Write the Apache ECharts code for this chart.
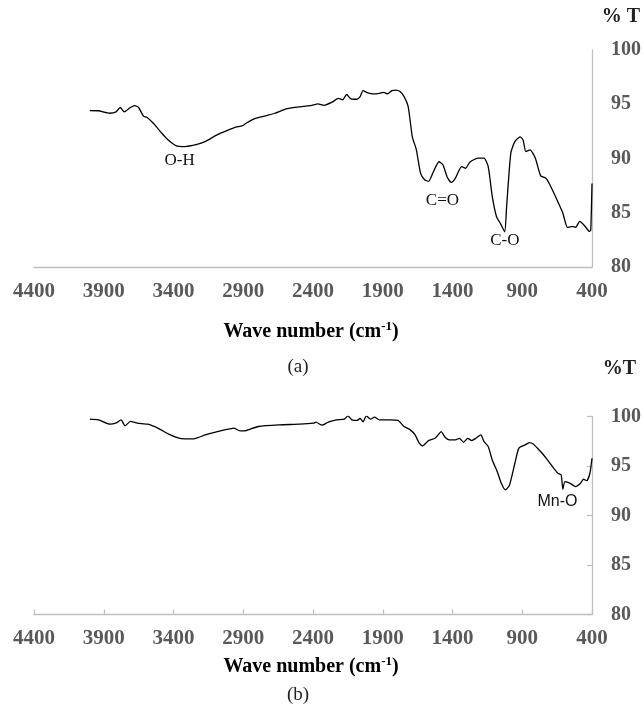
<!DOCTYPE html>
<html>
<head>
<meta charset="utf-8">
<script src="https://cdn.jsdelivr.net/npm/echarts@6/dist/echarts.min.js"></script>
<style>
  html, body { margin: 0; padding: 0; background: #fff; }
  #chart { width: 644px; height: 707px; }
</style>
</head>
<body>
<div id="chart"></div>
<script>
// ---- data: [wave number, %T] ----
const spectrumA = [
  [4000, 94.42], [3938, 94.4], [3856, 94.17], [3812, 94.3], [3782, 94.7], [3753, 94.3],
  [3709, 94.7], [3679, 94.88], [3650, 94.7], [3615, 93.9], [3591, 93.8], [3541, 93.2],
  [3482, 92.3], [3438, 91.7], [3380, 91.17], [3321, 91.1], [3232, 91.3], [3174, 91.56],
  [3085, 92.2], [3012, 92.6], [2953, 92.9], [2909, 93.0], [2879, 93.25], [2821, 93.65],
  [2732, 93.96], [2674, 94.17], [2585, 94.6], [2468, 94.8], [2409, 94.9], [2365, 95.03],
  [2321, 94.9], [2262, 95.2], [2218, 95.55], [2188, 95.4], [2159, 95.9], [2129, 95.5],
  [2085, 95.46], [2062, 95.7], [2041, 96.26], [2012, 96.07], [1968, 95.95], [1924, 96.0],
  [1894, 96.1], [1865, 95.95], [1835, 96.26], [1806, 96.3], [1776, 96.17], [1747, 95.7],
  [1718, 94.8], [1688, 92.0], [1659, 90.8], [1629, 88.65], [1600, 88.04], [1571, 87.9],
  [1541, 88.65], [1497, 89.7], [1468, 89.4], [1438, 88.3], [1409, 87.8], [1379, 88.2],
  [1335, 89.26], [1306, 89.1], [1276, 89.66], [1218, 90.03], [1174, 90.03], [1144, 89.26],
  [1115, 86.5], [1085, 84.66], [1056, 84.0], [1026, 83.25], [1012, 85.58], [982, 90.5],
  [953, 91.56], [915, 92.0], [894, 91.7], [874, 90.64], [844, 90.8], [806, 90.03],
  [768, 88.4], [732, 88.2], [703, 87.6], [644, 86.0], [609, 84.97], [576, 83.65],
  [541, 83.74], [518, 83.65], [488, 84.2], [453, 83.8], [418, 83.28], [409, 83.4], [400, 87.7]
];

const spectrumB = [
  [4000, 99.73], [3938, 99.66], [3856, 99.22], [3806, 99.39], [3776, 99.66], [3747, 99.06],
  [3709, 99.5], [3659, 99.33], [3585, 99.22], [3512, 98.82], [3438, 98.25], [3379, 97.9],
  [3321, 97.74], [3247, 97.77], [3174, 98.14], [3085, 98.48], [2997, 98.75], [2968, 98.82],
  [2924, 98.55], [2879, 98.58], [2791, 98.99], [2644, 99.16], [2497, 99.22], [2394, 99.33],
  [2379, 99.43], [2335, 99.12], [2291, 99.43], [2232, 99.66], [2174, 99.73], [2150, 100.07],
  [2121, 99.66], [2085, 99.6], [2062, 99.8], [2041, 99.46], [2018, 100.07], [1988, 99.73],
  [1959, 99.93], [1924, 99.66], [1850, 99.66], [1791, 99.6], [1747, 98.99], [1703, 98.65],
  [1668, 98.14], [1638, 97.3], [1615, 97.03], [1571, 97.57], [1526, 97.8], [1503, 98.14],
  [1482, 98.48], [1453, 97.9], [1424, 97.64], [1379, 97.64], [1350, 97.8], [1321, 97.4],
  [1291, 97.8], [1262, 97.57], [1232, 97.8], [1197, 98.14], [1174, 97.47], [1144, 96.96],
  [1115, 95.6], [1079, 94.43], [1050, 93.25], [1021, 92.58], [991, 93.09], [953, 95.28],
  [924, 96.8], [879, 97.13], [850, 97.37], [821, 97.23], [791, 96.8], [762, 96.36],
  [718, 95.6], [674, 94.77], [644, 94.27], [621, 94.1], [609, 92.65], [594, 93.42],
  [556, 93.25], [518, 92.92], [482, 93.25], [462, 93.66], [438, 93.52], [415, 94.27], [400, 95.78]
];

// peak labels: [wave number, %T, text]
const peaksA = [[3356, 89.8, 'O-H'], [1472, 86.1, 'C=O'], [1025, 82.4, 'C-O']];
const peaksB = [[648, 91.4, 'Mn-O']];

const xTicks = [4400, 3900, 3400, 2900, 2400, 1900, 1400, 900, 400];
const yTicks = [80, 85, 90, 95, 100];

// x is drawn as (wave number - 400) so ticks start at 0 on a 500 step
const X0 = xTicks[xTicks.length - 1];
const shift = (arr) => arr.map((p) => [p[0] - X0, p[1]]);

const SERIF = "'Liberation Serif', 'Times New Roman', serif";
const SANS = "'Liberation Sans', Arial, sans-serif";
const AXIS_GREY = '#bfbfbf';
const LABEL_GREY = '#595959';

function xAxis(idx, ticks) {
  return {
    gridIndex: idx, type: 'value', inverse: true,
    min: 0, max: xTicks[0] - X0, interval: 500,
    axisLine: { show: true, lineStyle: { color: AXIS_GREY, width: 1.3 } },
    axisTick: { show: ticks, inside: true, length: 5, lineStyle: { color: AXIS_GREY, width: 1.3 } },
    splitLine: { show: false },
    axisLabel: {
      margin: 14, showMinLabel: true, showMaxLabel: true,
      color: LABEL_GREY, fontFamily: SERIF, fontWeight: 'bold', fontSize: 21,
      formatter: (v) => String(v + X0),
    },
  };
}

function yAxis(idx, ticks) {
  return {
    gridIndex: idx, type: 'value', position: 'right',
    min: yTicks[0], max: yTicks[yTicks.length - 1], interval: 5,
    axisLine: { show: true, lineStyle: { color: AXIS_GREY, width: 1.3 } },
    axisTick: { show: ticks, inside: true, length: 5, lineStyle: { color: AXIS_GREY, width: 1.3 } },
    splitLine: { show: false },
    axisLabel: { margin: 19, color: LABEL_GREY, fontFamily: SERIF, fontWeight: 'bold', fontSize: 20 },
  };
}

function peakMarks(peaks, family, size) {
  return {
    symbol: 'circle', symbolSize: 0, silent: true,
    label: {
      show: true, position: 'inside', color: '#111',
      fontFamily: family, fontSize: size, fontWeight: 'normal',
      formatter: (p) => p.name,
    },
    data: peaks.map((p) => ({ name: p[2], coord: [p[0] - X0, p[1]] })),
  };
}

function spectrum(idx, data, marks) {
  return {
    type: 'line', xAxisIndex: idx, yAxisIndex: idx,
    data: shift(data), showSymbol: false, smooth: 0.2,
    lineStyle: { color: '#000', width: 1.3 },
    markPoint: marks,
    animation: false,
  };
}

function axisTitle(y) {
  return {
    type: 'text', x: 311, y: y,
    style: {
      text: '{m|Wave number (cm}{s|-1}{m|)}',
      align: 'center', verticalAlign: 'middle', fill: '#000',
      rich: {
        m: { fontFamily: SERIF, fontWeight: 'bold', fontSize: 20, lineHeight: 24, fill: '#000' },
        s: { fontFamily: SERIF, fontWeight: 'bold', fontSize: 13, lineHeight: 12, verticalAlign: 'top', fill: '#000' },
      },
    },
  };
}

function plain(text, x, y, font, align) {
  return { type: 'text', x, y, style: { text, font, fill: '#222', align: align || 'center', verticalAlign: 'middle' } };
}

const chart = echarts.init(document.getElementById('chart'), null, { renderer: 'canvas' });
chart.setOption({
  backgroundColor: '#fff',
  animation: false,
  grid: [
    { left: 34, right: 52, top: 50, height: 217 },
    { left: 34, right: 52, top: 416.5, height: 198 },
  ],
  xAxis: [xAxis(0, false), xAxis(1, true)],
  yAxis: [yAxis(0, false), yAxis(1, true)],
  series: [
    spectrum(0, spectrumA, peakMarks(peaksA, SERIF, 17)),
    spectrum(1, spectrumB, peakMarks(peaksB, SANS, 16)),
  ],
  graphic: [
    plain('% T', 640, 17, 'bold 20px ' + SERIF, 'right'),
    plain('%T', 636, 369, 'bold 20px ' + SERIF, 'right'),
    axisTitle(332),
    axisTitle(667),
    plain('(a)', 298, 367, '19px ' + SERIF),
    plain('(b)', 298, 695, '19px ' + SERIF),
  ],
});
</script>
</body>
</html>
